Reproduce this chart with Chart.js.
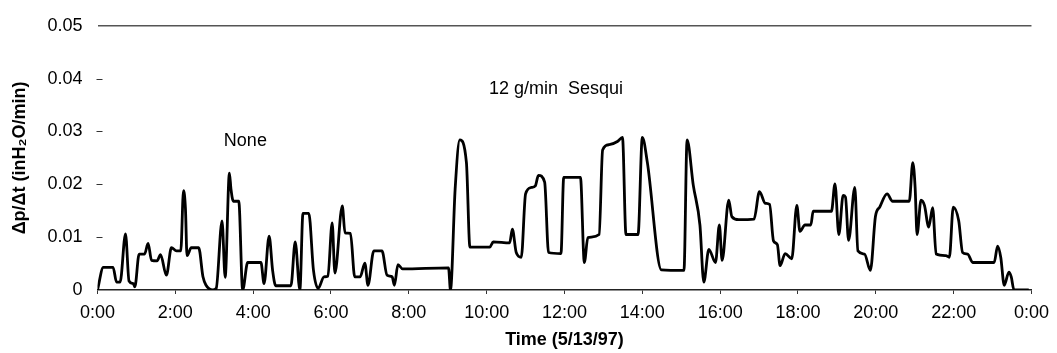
<!DOCTYPE html>
<html>
<head>
<meta charset="utf-8">
<script src="https://cdn.jsdelivr.net/npm/chart.js@4"></script>
<style>
  html, body { margin: 0; padding: 0; background: #fff; }
  #c { display: block; }
</style>
</head>
<body>
<canvas id="c" width="1057" height="353"></canvas>
<script>
// Time in hours since 0:00 on 5/13/97
const timeHours = [
  0, 0.15, 0.40, 0.49, 0.58, 0.72, 0.81, 0.92, 0.96, 1.07, 1.21, 1.30, 1.39, 1.53, 1.62, 1.77,
  1.90, 2.03, 2.14, 2.21, 2.26, 2.30, 2.41, 2.60, 2.71, 2.79, 2.96, 3.05, 3.20, 3.28, 3.39, 3.43,
  3.49, 3.63, 3.73, 3.86, 4.20, 4.28, 4.41, 4.50, 4.58, 4.97, 5.08, 5.20, 5.28, 5.43, 5.55, 5.67,
  5.82, 5.92, 6.03, 6.10, 6.29, 6.36, 6.50, 6.61, 6.75, 6.87, 6.95, 7.10, 7.31, 7.44, 7.57, 7.63,
  7.72, 7.84, 9.02, 9.07, 9.19, 9.31, 9.48, 9.57, 10.08, 10.17, 10.59, 10.66, 10.76, 10.89, 11.00, 11.15,
  11.25, 11.33, 11.49, 11.59, 11.91, 11.98, 12.41, 12.51, 12.60, 12.89, 12.98, 13.15, 13.36, 13.49, 13.58, 13.89,
  14.00, 14.13, 14.49, 15.07, 15.15, 15.31, 15.48, 15.58, 15.71, 15.88, 15.98, 16.05, 16.22, 16.30, 16.48, 16.87,
  17.01, 17.16, 17.27, 17.37, 17.47, 17.54, 17.67, 17.84, 17.97, 18.05, 18.18, 18.33, 18.39, 18.86, 18.95, 19.05,
  19.16, 19.22, 19.30, 19.46, 19.54, 19.71, 19.86, 19.99, 20.10, 20.29, 20.43, 20.86, 20.95, 21.01, 21.06, 21.16,
  21.25, 21.36, 21.46, 21.55, 21.80, 21.89, 21.99, 22.13, 22.23, 22.36, 22.49, 23.04, 23.13, 23.21, 23.30, 23.42,
  23.48, 23.55, 23.93
];
// dp/dt in inH2O/min
const dpdtValues = [
  0, 0.0043, 0.0043, 0.0015, 0.0015, 0.0106, 0.0017, 0.0012, 0.0006, 0.0068, 0.0068, 0.0088, 0.0056, 0.0055, 0.0067, 0.0028,
  0.0080, 0.0074, 0.0074, 0.0188, 0.0154, 0.0065, 0.0080, 0.0080, 0.0025, 0.0009, 0, 0.0003, 0.0131, 0.0024, 0.0221, 0.0191,
  0.0168, 0.0168, 0, 0.0052, 0.0052, 0.0012, 0.0102, 0.0037, 0.0008, 0.0008, 0.0091, 0, 0.0145, 0.0145, 0.0037, 0.0003,
  0.0025, 0.0026, 0.0127, 0.0032, 0.0159, 0.0108, 0.0107, 0.0025, 0.0025, 0.0051, 0.0009, 0.0074, 0.0074, 0.0028, 0.0025, 0.0009,
  0.0048, 0.0040, 0.0042, 0, 0.0191, 0.0284, 0.0241, 0.0081, 0.0081, 0.0091, 0.0089, 0.0115, 0.0071, 0.0062, 0.0182, 0.0194,
  0.0197, 0.0217, 0.0204, 0.0071, 0.0069, 0.0213, 0.0213, 0.0052, 0.0099, 0.0105, 0.0265, 0.0275, 0.0281, 0.0289, 0.0105, 0.0105,
  0.0289, 0.0241, 0.0038, 0.0037, 0.0284, 0.0198, 0.0123, 0.0015, 0.0077, 0.0052, 0.0123, 0.0056, 0.0170, 0.0139, 0.0133, 0.0134,
  0.0186, 0.0164, 0.0162, 0.0093, 0.0086, 0.0046, 0.0069, 0.0059, 0.0160, 0.0111, 0.0123, 0.0123, 0.0149, 0.0149, 0.0201, 0.0105,
  0.0179, 0.0176, 0.0094, 0.0194, 0.0074, 0.0068, 0.0037, 0.0139, 0.0157, 0.0182, 0.0168, 0.0168, 0.0241, 0.0194, 0.0105, 0.0170,
  0.0160, 0.0119, 0.0156, 0.0068, 0.0065, 0.0062, 0.0157, 0.0131, 0.0071, 0.0068, 0.0052, 0.0052, 0.0083, 0.0062, 0.0009, 0.0034,
  0.0025, 0, 0
];
// Axis ticks
const xTickHours = [0, 2, 4, 6, 8, 10, 12, 14, 16, 18, 20, 22, 24];
const xTickLabels = ['0:00', '2:00', '4:00', '6:00', '8:00', '10:00', '12:00', '14:00', '16:00', '18:00', '20:00', '22:00', '0:00'];
const yTickValues = [0, 0.01, 0.02, 0.03, 0.04, 0.05];
const yTickLabels = ['0', '0.01', '0.02', '0.03', '0.04', '0.05'];
// Annotations: text and anchor (hours, value)
const noteTexts = ['None', '12 g/min  Sesqui'];
const noteHours = [3.8, 11.78];
const noteValues = [0.0281, 0.038];

const points = timeHours.map((t, i) => ({ x: t, y: dpdtValues[i] }));

const FONT = "'Liberation Sans', Arial, Helvetica, sans-serif";

const extras = {
  id: 'extras',
  afterDraw(chart) {
    const { ctx, scales: { x, y } } = chart;
    ctx.save();
    // inward y tick marks
    ctx.strokeStyle = '#333';
    ctx.lineWidth = 1;
    yTickValues.forEach(v => {
      if (v === 0 || v === 0.05) return;
      const py = Math.round(y.getPixelForValue(v)) + 0.5;
      ctx.beginPath();
      ctx.moveTo(x.left - 1, py);
      ctx.lineTo(x.left + 5, py);
      ctx.stroke();
    });
    // annotations
    ctx.fillStyle = '#000';
    ctx.font = '18px ' + FONT;
    ctx.textAlign = 'center';
    ctx.textBaseline = 'middle';
    noteTexts.forEach((t, i) => {
      ctx.fillText(t, x.getPixelForValue(noteHours[i]), y.getPixelForValue(noteValues[i]));
    });
    ctx.restore();
  }
};

new Chart(document.getElementById('c'), {
  type: 'line',
  data: {
    datasets: [{
      data: points,
      borderColor: '#000',
      borderWidth: 2.8,
      pointRadius: 0,
      fill: false,
      cubicInterpolationMode: 'monotone',
      tension: 0.4
    }]
  },
  options: {
    responsive: false,
    animation: false,
    layout: { padding: { left: 0, right: 21, top: 20, bottom: 0 } },
    plugins: { legend: { display: false }, tooltip: { enabled: false } },
    scales: {
      x: {
        type: 'linear',
        min: 0,
        max: 24,
        afterBuildTicks(scale) { scale.ticks = xTickHours.map(v => ({ value: v })); },
        afterFit(scale) { scale.height = 63; },
        ticks: {
          autoSkip: false,
          maxRotation: 0,
          padding: 8,
          color: '#000',
          font: { family: FONT, size: 18 },
          callback(value) { const i = xTickHours.indexOf(value); return i >= 0 ? xTickLabels[i] : ''; }
        },
        grid: { drawOnChartArea: false, drawTicks: true, tickLength: 4, color: '#333' },
        border: { display: true, color: '#222', width: 1.5 },
        title: {
          display: true,
          text: 'Time (5/13/97)',
          color: '#000',
          font: { family: FONT, size: 18, weight: 'bold' },
          padding: { top: 0, bottom: 2 }
        }
      },
      y: {
        min: 0,
        max: 0.05,
        afterBuildTicks(scale) { scale.ticks = yTickValues.map(v => ({ value: v })); },
        afterFit(scale) { scale.width = 97.5; },
        ticks: {
          padding: 15,
          color: '#000',
          font: { family: FONT, size: 18 },
          callback(value) { const i = yTickValues.indexOf(value); return i >= 0 ? yTickLabels[i] : ''; }
        },
        grid: {
          drawTicks: false,
          lineWidth: 1.5,
          color(ctx) { return ctx.tick && ctx.tick.value === 0.05 ? '#555' : 'rgba(0,0,0,0)'; }
        },
        border: { display: false },
        title: {
          display: true,
          text: 'Δp/Δt (inH₂O/min)',
          color: '#000',
          font: { family: FONT, size: 18, weight: 'bold' },
          padding: { top: 9, bottom: 0 }
        }
      }
    }
  },
  plugins: [extras]
});
</script>
</body>
</html>
